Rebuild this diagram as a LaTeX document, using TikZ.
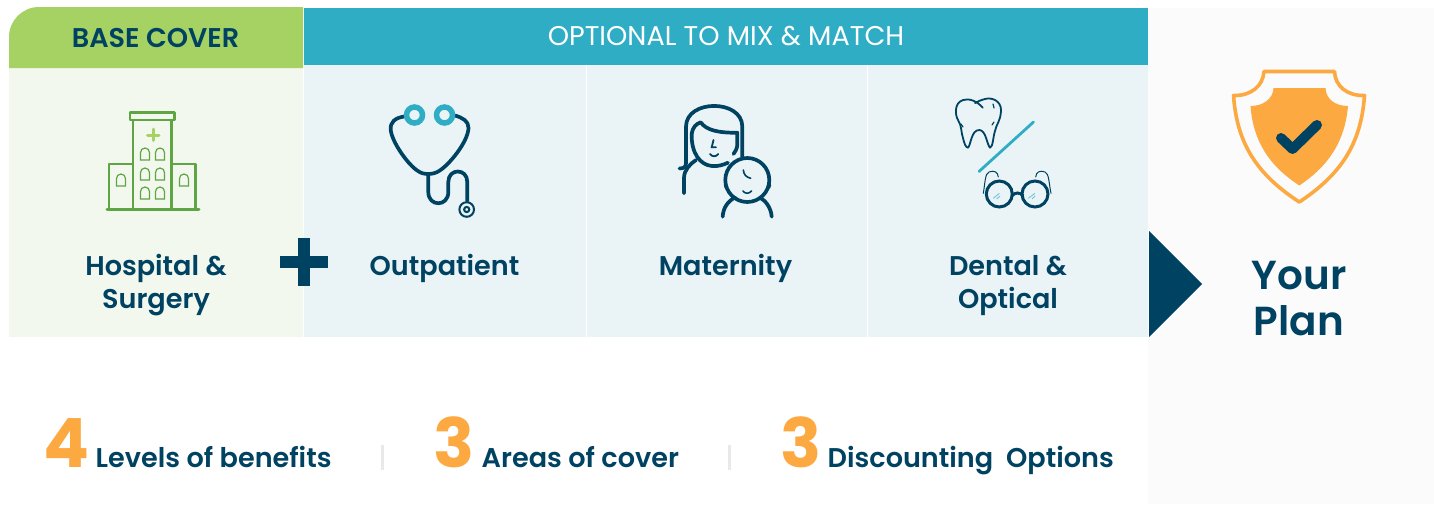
\documentclass[tikz,border=0pt]{standalone}
\usepackage{fontspec}
\setmainfont{Poppins}
\newfontfamily\semi{Poppins SemiBold}
\newfontfamily\popbold{Poppins}[BoldFont={Poppins Bold}]
\definecolor{navy}{HTML}{004262}
\definecolor{teal}{HTML}{2EADC5}
\definecolor{leaf}{HTML}{A6D264}
\definecolor{leafdark}{HTML}{5FA544}
\definecolor{paleg}{HTML}{F3F8EE}
\definecolor{paleb}{HTML}{EAF4F7}
\definecolor{orange}{HTML}{FDA942}
\definecolor{sidebg}{HTML}{FBFBFB}
\definecolor{sepc}{HTML}{E9E9E9}
\tikzset{
 x=1pt,y=-1pt,
 lab/.style={font=\semi\fontsize{27.1}{33}\selectfont,text=navy,align=center,inner sep=0pt},
 foot/.style={font=\semi\fontsize{27.1}{33}\selectfont,text=navy,anchor=base west,inner sep=0pt},
 num/.style={font=\popbold\bfseries\fontsize{68}{68}\selectfont,text=orange,anchor=base west,inner sep=0pt},
 nv/.style={draw=navy,line width=3.7pt,line cap=round,line join=round},
 hosp/.style={draw=leafdark,line width=2.4pt,line join=round},
 win/.style={draw=leafdark,line width=1.2pt},
}
\newcommand{\archwin}[2]{\draw[win] (#1-4.5,#2+6) -- (#1-4.5,#2-1.5) arc[start angle=180,end angle=360,radius=4.5] -- (#1+4.5,#2+6) -- cycle;}
\begin{document}
\begin{tikzpicture}
\useasboundingbox (0,0) rectangle (1434,504);
\fill[white] (0,0) rectangle (1434,504);
\fill[sidebg] (1148,8) rectangle (1434,504);
\fill[paleg] (9,68) rectangle (303,337);
\fill[paleb] (304,65) rectangle (1148,337);
\draw[white,line width=1pt] (586,65) -- (586,337) (867,65) -- (867,337);
\fill[leaf] (9,68) -- (9,37) arc[start angle=180,end angle=270,radius=30] -- (303,7) -- (303,68) -- cycle;
\fill[teal] (304,8) rectangle (1148,65);
\node[font=\semi\fontsize{27.1}{30}\selectfont,text=navy,inner sep=0pt] (base) at (155.5,38) {BASE COVER};
\node[font=\fontsize{27.1}{30}\selectfont,text=white,inner sep=0pt] (opt) at (726,36) {OPTIONAL TO MIX \& MATCH};
% hospital
\draw[hosp] (109,164) rectangle (133,209);
\draw[hosp] (172,164) rectangle (195.5,209);
\draw[hosp,line width=2.8pt] (133,120) rectangle (171.5,209);
\draw[hosp,line width=2.8pt] (130,112.5) rectangle (174.5,120);
\draw[leafdark,line width=3pt,line cap=round] (107,209.5) -- (199,209.5);
\draw[leaf,line width=3pt,line cap=round] (153,129) -- (153,140.5) (147.5,135) -- (159,135);
\foreach \x/\y in {145/154,160/154,145/174,160/174,145/193,160/193,121/180,184/180}{\archwin{\x}{\y}}
% stethoscope
\draw[nv] (404,116.5) .. controls (395,118) and (390,122) .. (390.7,130) .. controls (392,142) and (408,165) .. (418,171) .. controls (423,175) and (433,175) .. (439,171) .. controls (449,165) and (468,142) .. (468.5,128) .. controls (468.5,121) and (463,118) .. (455,115.5);
\draw[nv] (428.3,175.5) -- (428.3,192) .. controls (428.3,207) and (448.3,207) .. (448.3,192) -- (448.3,182) .. controls (448.3,168) and (467.3,168) .. (467.3,182) -- (467.3,201);
\draw[teal,line width=5.5pt] (414.5,115) circle[radius=8] (444.5,115) circle[radius=8];
\draw[navy,line width=2pt] (466.7,209.5) circle[radius=7.3] (466.7,209.5) circle[radius=2.6];
% mother and child
\draw[nv] (679.5,168.5) .. controls (684,168.3) and (686,167) .. (686,163) -- (686,126.7) .. controls (686,99) and (742.3,99) .. (742.3,126.7) -- (742.3,157);
\draw[nv] (691.7,133.3) .. controls (693,127) and (696,124) .. (700.7,122.3) .. controls (706,130) and (718,133) .. (737.3,132.7) -- (737.3,145) .. controls (737,149) and (735,152) .. (733.5,154);
\draw[nv] (691.7,133.3) .. controls (691,153) and (700,165) .. (712,166) .. controls (718,166.5) and (723,165) .. (728,162.7);
\draw[nv] (684,193.3) -- (684,178) .. controls (684,170) and (690,164) .. (696,160);
\draw[navy,line width=1.8pt,line cap=round] (713.5,140) -- (711.7,147.3) -- (716,147.3);
\draw[navy,line width=1.8pt,line cap=round] (710,154) .. controls (712,157) and (716,157) .. (718.3,154);
\draw[nv] (747.3,180) circle[radius=22];
\draw[navy,line width=1.6pt,line cap=round] (725,183) .. controls (724,187) and (726,189) .. (728,189) (770,183) .. controls (771,187) and (769,189) .. (767,189);
\draw[navy,line width=1.6pt,line cap=round] (743.3,170) .. controls (744,175) and (746,177) .. (750.7,178.3);
\draw[navy,line width=1.6pt,line cap=round] (743,191) .. controls (745,194) and (749,194) .. (751.5,191);
\draw[nv] (722.7,216.7) .. controls (723,208) and (728,201) .. (735,197.5);
\draw[nv] (771.7,216.7) .. controls (771,208) and (766,201) .. (760,197.5);
% dental and optical
\draw[navy,line width=1.8pt,line join=round,line cap=round] (982.7,107.7) .. controls (977,101) and (969,98) .. (963,100) .. controls (954,103) and (955,115) .. (958,120) .. controls (962,126) and (961,133) .. (963,138) .. controls (964,143) and (966,148) .. (968,147.7) .. controls (971,145) and (971,130) .. (979.3,130) .. controls (986,130) and (987,145) .. (990,147.7) .. controls (993,147) and (993,137) .. (995,131) .. controls (996,125) and (1001,120) .. (1001,110) .. controls (1001,101) and (992,97) .. (985,99) .. controls (981,100) and (979,101) .. (975,103);
\draw[navy,line width=1.2pt,line cap=round] (993,104) -- (994,108) (961,124) -- (963,127) (992,125) -- (994,122);
\draw[teal,line width=2.8pt,line cap=round] (1033.5,122) -- (979,171.5);
\draw[navy,line width=3pt] (999.3,194) circle[radius=13] (1035,194) circle[radius=13];
\draw[navy,line width=3pt] (1011.7,196) .. controls (1015,192) and (1020,192) .. (1023.3,196);
\draw[navy,line width=1pt,line cap=round] (983.3,193.3) .. controls (985,184) and (985,173) .. (989,172) .. controls (994,170) and (998,172) .. (998.3,177);
\draw[navy,line width=1pt,line cap=round] (1051,193.3) .. controls (1049,184) and (1049,173) .. (1045,172) .. controls (1040,170) and (1036,172) .. (1035.7,177);
\draw[teal!70,line width=0.9pt] (993.3,198.3) -- (999.3,193.3) (996.7,199) -- (1000,196) (1028.3,198.3) -- (1035,193.3) (1032,199) -- (1035,196);
% texts in panels
\node[lab] (hs) at (156,285.5) {Hospital \&\\Surgery};
\node[lab] (op) at (444.5,268.5) {Outpatient};
\node[lab] (ma) at (725.5,268.5) {Maternity};
\node[lab] (do) at (1008,285.5) {Dental \&\\Optical};
% plus
\fill[navy] (298,238) rectangle (310,286);
\fill[navy] (280,256) rectangle (328,268);
% arrow
\fill[navy] (1149,231) -- (1202,284) -- (1149,337) -- cycle;
% shield
\draw[orange,line width=3.6pt,line join=round] (1264,71.5) -- (1334.5,71.5) .. controls (1335,86) and (1347,96) .. (1364.5,95.5) .. controls (1361,145) and (1340,175) .. (1299.3,202) .. controls (1258,175) and (1237,145) .. (1233.5,95.5) .. controls (1251,96) and (1263,86) .. (1264,71.5) -- cycle;
\fill[orange] (1273.5,88) -- (1325.5,88) .. controls (1326,99) and (1335,106) .. (1348,106) .. controls (1345,140) and (1330,165) .. (1299.3,185.5) .. controls (1268,165) and (1253,140) .. (1250.5,106) .. controls (1263,106) and (1273,99) .. (1273.5,88) -- cycle;
\draw[navy,line width=10pt,line cap=round,line join=round] (1281,138) -- (1292.5,149) -- (1317,125);
\node[font=\semi\fontsize{40.5}{46}\selectfont,text=navy,align=center,inner sep=0pt] (yp) at (1299,299) {Your\\Plan};
% footer
\node[num] (n4) at (43,467) {4};
\node[foot] (t4) at (95.5,467) {Levels of benefits};
\draw[sepc,line width=3pt] (382,445) -- (382,470);
\node[num] (n3) at (433,467) {3};
\node[foot] (t3) at (481.5,467) {Areas of cover};
\draw[sepc,line width=3pt] (729,445) -- (729,470);
\node[num] (n3b) at (780,467) {3};
\node[foot] (t3b) at (827.5,467) {Discounting\ \ Options};
\end{tikzpicture}
\end{document}
